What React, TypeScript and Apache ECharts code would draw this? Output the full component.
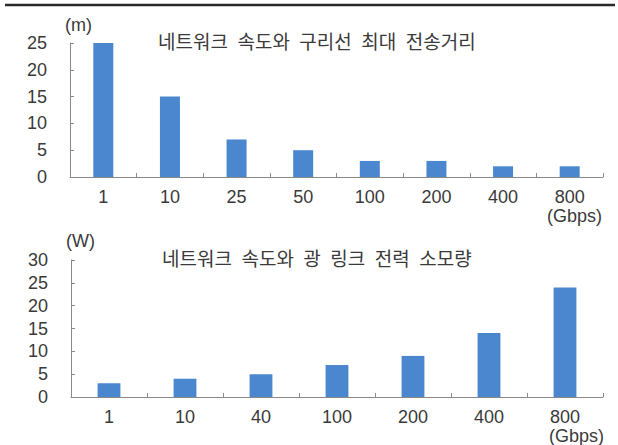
import React, { useEffect, useRef } from "react";
import * as echarts from "echarts";

// Copper cable: network speed vs maximum transmission distance (m)
const copperSpeeds = ["1", "10", "25", "50", "100", "200", "400", "800"];
const copperDistance = [25, 15, 7, 5, 3, 3, 2, 2];
const copperTicks = [0, 5, 10, 15, 20, 25];

// Optical link: network speed vs power consumption (W)
const opticalSpeeds = ["1", "10", "40", "100", "200", "400", "800"];
const opticalPower = [3, 4, 5, 7, 9, 14, 24];
const opticalTicks = [0, 5, 10, 15, 20, 25, 30];

const copperTitle = "네트워크 속도와 구리선 최대 전송거리";
const opticalTitle = "네트워크 속도와 광 링크 전력 소모량";

const BAR = "#4a87cf";
const AXIS = "#8a8a8a";
const TEXT = "#3a3a3a";
const NUM_FONT = "'Liberation Sans', Arial, 'Noto Sans CJK KR', sans-serif";
const KR_FONT = "'Noto Sans CJK KR', 'Noto Sans', sans-serif";

// SVG collapses ordinary spaces, so word gaps use an en space
const widen = (s: string) => s.split(" ").join("\u2002");

export default function App() {
  const ref = useRef<HTMLDivElement>(null);

  useEffect(() => {
    if (!ref.current) return;
    const chart = echarts.init(ref.current, undefined, { renderer: "svg" });

    const yAxisBase = (ticks: number[]) => ({
      type: "value" as const,
      min: ticks[0],
      max: ticks[ticks.length - 1],
      interval: ticks[1] - ticks[0],
      axisLine: { show: true, lineStyle: { color: AXIS, width: 1 } },
      axisTick: { show: true, inside: true, length: 4, lineStyle: { color: AXIS } },
      splitLine: { show: false },
      axisLabel: { color: TEXT, fontSize: 18, fontFamily: NUM_FONT, margin: 23 },
    });

    const xAxisBase = (cats: string[]) => ({
      type: "category" as const,
      data: cats,
      axisLine: { show: true, lineStyle: { color: AXIS, width: 1 } },
      axisTick: { show: true, inside: true, length: 4, lineStyle: { color: AXIS } },
      axisLabel: {
        color: TEXT,
        fontSize: 18,
        lineHeight: 18,
        fontFamily: NUM_FONT,
        margin: 11,
      },
    });

    chart.setOption({
      animation: false,
      backgroundColor: "#ffffff",
      grid: [
        { left: 70, right: 15, top: 43, height: 134 },
        { left: 71, right: 15, top: 260, height: 137 },
      ],
      xAxis: [
        { ...xAxisBase(copperSpeeds), gridIndex: 0 },
        { ...xAxisBase(opticalSpeeds), gridIndex: 1 },
      ],
      yAxis: [
        { ...yAxisBase(copperTicks), gridIndex: 0 },
        { ...yAxisBase(opticalTicks), gridIndex: 1 },
      ],
      series: [
        {
          type: "bar",
          xAxisIndex: 0,
          yAxisIndex: 0,
          data: copperDistance,
          barWidth: "30%",
          itemStyle: { color: BAR },
        },
        {
          type: "bar",
          xAxisIndex: 1,
          yAxisIndex: 1,
          data: opticalPower,
          barWidth: "30%",
          itemStyle: { color: BAR },
        },
      ],
      graphic: [
        {
          type: "line",
          shape: { x1: 5, y1: 5, x2: 615, y2: 5 },
          style: { stroke: "#2a2a2a", lineWidth: 2.5 },
        },
        {
          type: "text",
          left: 158,
          top: 31,
          style: { text: widen(copperTitle), fill: TEXT, font: `19px ${KR_FONT}` },
        },
        {
          type: "text",
          left: 162,
          top: 248,
          style: { text: widen(opticalTitle), fill: TEXT, font: `19px ${KR_FONT}` },
        },
        {
          type: "text",
          left: 65,
          top: 16,
          style: { text: "(m)", fill: TEXT, font: `18px ${NUM_FONT}` },
        },
        {
          type: "text",
          left: 66,
          top: 232,
          style: { text: "(W)", fill: TEXT, font: `18px ${NUM_FONT}` },
        },
        {
          type: "text",
          left: 547,
          top: 207,
          style: { text: "(Gbps)", fill: TEXT, font: `18px ${NUM_FONT}`, lineHeight: 18 },
        },
        {
          type: "text",
          left: 549,
          top: 427,
          style: { text: "(Gbps)", fill: TEXT, font: `18px ${NUM_FONT}`, lineHeight: 18 },
        },
      ],
    });

    return () => chart.dispose();
  }, []);

  return (
    <div
      ref={ref}
      style={{ position: "fixed", left: 0, top: 0, width: 618, height: 445 }}
    />
  );
}
